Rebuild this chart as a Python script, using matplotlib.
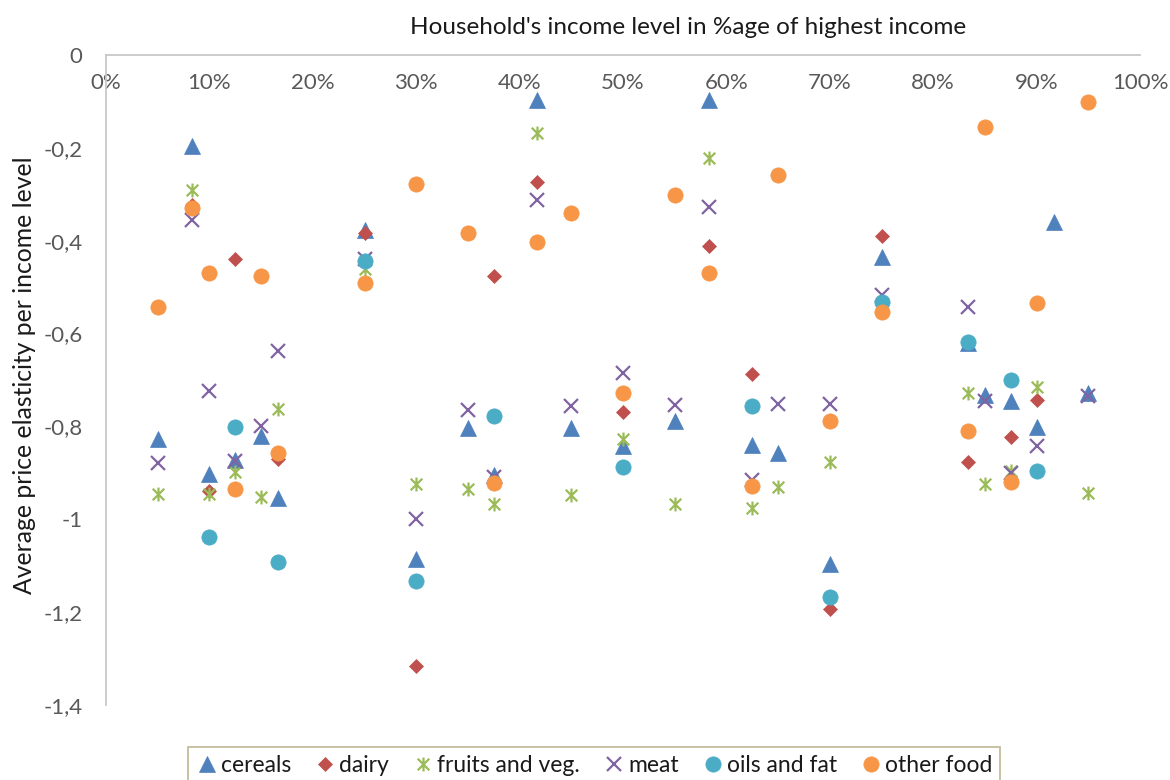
import numpy as np
import matplotlib
matplotlib.use('Agg')
import matplotlib.pyplot as plt
from matplotlib.path import Path
from matplotlib.ticker import FuncFormatter, MultipleLocator

plt.rcParams['font.family'] = ['Lato', 'DejaVu Sans']

# income level (% of highest income) and average price elasticity, per food group
cereals_x = [5, 8.33, 10, 12.5, 15, 16.67, 25, 30, 35, 37.5, 41.67, 45, 50, 55,
             58.33, 62.5, 65, 70, 75, 83.33, 85, 87.5, 90, 91.67, 95]
cereals_y = [-0.828, -0.195, -0.903, -0.872, -0.821, -0.955, -0.377, -1.086, -0.804,
             -0.905, -0.097, -0.804, -0.842, -0.788, -0.097, -0.840, -0.858, -1.096,
             -0.436, -0.620, -0.732, -0.745, -0.802, -0.360, -0.729]

dairy_x = [8.33, 10, 12.5, 16.67, 25, 30, 37.5, 41.67, 50, 58.33, 62.5, 70, 75,
           83.33, 87.5, 90]
dairy_y = [-0.323, -0.940, -0.440, -0.871, -0.383, -1.317, -0.477, -0.274, -0.768,
           -0.411, -0.687, -1.194, -0.389, -0.876, -0.823, -0.742]

fruits_x = [5, 8.33, 10, 12.5, 15, 16.67, 25, 30, 35, 37.5, 41.67, 45, 50, 55,
            58.33, 62.5, 65, 70, 83.33, 85, 87.5, 90, 95]
fruits_y = [-0.946, -0.291, -0.946, -0.899, -0.951, -0.762, -0.460, -0.923, -0.935,
            -0.966, -0.169, -0.948, -0.826, -0.966, -0.221, -0.975, -0.930, -0.876,
            -0.729, -0.924, -0.897, -0.716, -0.943]

meat_x = [5, 8.33, 10, 12.5, 15, 16.67, 25, 30, 35, 37.5, 41.67, 45, 50, 55,
          58.33, 62.5, 65, 70, 75, 83.33, 85, 87.5, 90, 95]
meat_y = [-0.879, -0.355, -0.724, -0.874, -0.798, -0.638, -0.440, -0.999, -0.765,
          -0.908, -0.312, -0.757, -0.684, -0.754, -0.327, -0.915, -0.752, -0.752,
          -0.517, -0.543, -0.745, -0.900, -0.842, -0.734]

oils_x = [10, 12.5, 16.67, 25, 30, 37.5, 50, 62.5, 70, 75, 83.33, 87.5, 90]
oils_y = [-1.039, -0.802, -1.093, -0.444, -1.132, -0.778, -0.887, -0.756, -1.168,
          -0.531, -0.619, -0.701, -0.895]

other_x = [5, 8.33, 10, 12.5, 15, 16.67, 25, 30, 35, 37.5, 41.67, 45, 50, 55,
           58.33, 62.5, 65, 70, 75, 83.33, 85, 87.5, 90, 95]
other_y = [-0.543, -0.330, -0.470, -0.935, -0.475, -0.858, -0.490, -0.278, -0.383,
           -0.921, -0.402, -0.341, -0.729, -0.302, -0.469, -0.929, -0.258, -0.788,
           -0.554, -0.809, -0.154, -0.920, -0.535, -0.102]

# excel-like "star": an x with a vertical bar
star = Path([(-0.5, -0.5), (0.5, 0.5), (-0.5, 0.5), (0.5, -0.5), (0, -0.6), (0, 0.6)],
            [Path.MOVETO, Path.LINETO, Path.MOVETO, Path.LINETO, Path.MOVETO, Path.LINETO])

series = [
   ('cereals', cereals_x, cereals_y, '#4F81BD', '^', 11),
   ('dairy', dairy_x, dairy_y, '#C0504D', 'D', 7.5),
   ('fruits and veg.', fruits_x, fruits_y, '#9BBB59', star, 10),
   ('meat', meat_x, meat_y, '#8064A2', 'x', 10),
   ('oils and fat', oils_x, oils_y, '#4BACC6', 'o', 11),
   ('other food', other_x, other_y, '#F79646', 'o', 11),
]

fig = plt.figure(figsize=(11.7, 7.8), dpi=100)
ax = fig.add_axes([106/1170, 1-705/780, (1140-106)/1170, (705-55)/780])

for name, xs, ys, col, mk, ms in series:
   x = np.array(xs)/100.0
   if mk == 'x' or mk is star:
      ax.plot(x, ys, ls='none', marker=mk, ms=ms, mec=col, mfc='none', mew=1.6, label=name)
   else:
      ax.plot(x, ys, ls='none', marker=mk, ms=ms, mec=col, mfc=col, mew=0.5, label=name)

ax.set_xlim(0, 1)
ax.set_ylim(-1.4, 0)
ax.spines['bottom'].set_position(('data', 0))
ax.spines['top'].set_visible(False)
ax.spines['right'].set_visible(False)
for s in ('bottom', 'left'):
   ax.spines[s].set_color('#C8C8C8')
   ax.spines[s].set_linewidth(1.3)

ax.xaxis.set_major_locator(MultipleLocator(0.1))
ax.yaxis.set_major_locator(MultipleLocator(0.2))
ax.xaxis.set_major_formatter(FuncFormatter(lambda v, p: f'{v*100:.0f}%'))
def yfmt(v, p):
   s = f'{v:.1f}'.rstrip('0').rstrip('.').replace('.', ',')
   return '0' if s in ('-0', '0') else s
ax.yaxis.set_major_formatter(FuncFormatter(yfmt))
ax.tick_params(axis='both', length=0, labelsize=16, labelcolor='#595959')
ax.tick_params(axis='x', pad=13)
ax.tick_params(axis='y', pad=17)

fig.text(688/1170, 1-28/780, "Household's income level in %age of highest income",
         ha='center', va='center', fontsize=17.5, color='#1A1A1A')
fig.text(25/1170, 1-375/780, 'Average price elasticity per income level', rotation=90,
         ha='center', va='center', fontsize=17.8, color='#1A1A1A')

leg = fig.legend(loc='upper center', bbox_to_anchor=(594/1170, 1-736/780), ncol=6,
                 frameon=True, fancybox=False, fontsize=16.5, handletextpad=0.1,
                 columnspacing=1.0, borderpad=0.35, handlelength=1.0)
leg.get_frame().set_edgecolor('#B3AC86')
leg.get_frame().set_linewidth(1.3)
for t in leg.get_texts():
   t.set_color('#1A1A1A')

fig.savefig('out.png', dpi=100)
